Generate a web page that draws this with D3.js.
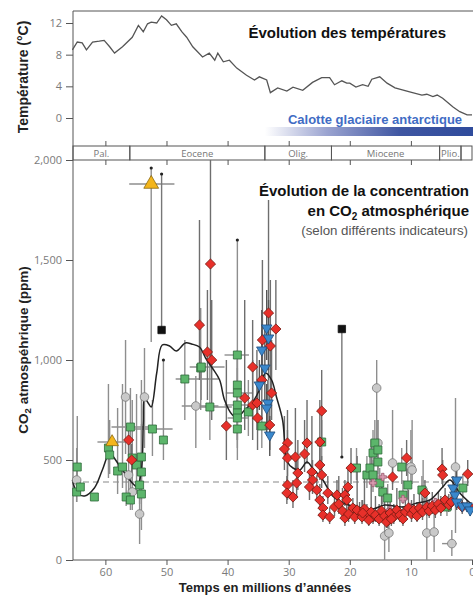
<!DOCTYPE html>
<html>
<head>
<meta charset="utf-8">
<script src="https://cdn.jsdelivr.net/npm/d3@7"></script>
<style>
  body { margin: 0; background: #fff; }
  svg { display: block; }
  .tick text { font-family: "Open Sans", sans-serif; font-size: 11px; fill: #7a7a7a; }
  .tick line, .domain { stroke: #555; }
</style>
</head>
<body>
<script>
// --- data ---------------------------------------------------------------
// temperature curve [age Ma, °C]
const temperature = [
  [65.4,8.6],[64.6,9.6],[63.8,9.5],[63.1,8.6],[62.1,9.6],[61.0,9.7],[60.2,9.8],[59.3,9.0],[58.5,8.2],
  [57.2,9.0],[55.6,10.2],[54.6,11.7],[53.8,10.9],[53.1,11.9],[52.5,12.1],[51.6,12.0],[50.8,12.9],[50.0,12.4],
  [49.2,11.7],[48.4,11.9],[47.5,10.9],[46.7,10.2],[45.7,9.0],[44.1,7.7],[43.0,8.2],[42.1,7.3],[41.6,8.2],
  [40.7,7.1],[39.7,7.3],[38.5,6.3],[36.9,5.4],[35.6,4.8],[34.8,5.2],[33.6,4.8],[33.0,3.2],[31.8,3.8],
  [30.3,3.4],[29.3,3.9],[27.7,3.5],[26.1,4.5],[24.6,5.1],[23.3,5.1],[22.5,4.2],[21.3,4.7],[20.5,4.4],
  [20.0,4.4],[19.0,3.9],[17.9,4.2],[17.0,4.0],[16.4,4.9],[15.1,5.2],[13.9,4.4],[12.6,3.8],[10.2,3.3],
  [8.2,2.9],[7.4,3.0],[6.4,2.7],[5.7,2.9],[4.8,2.5],[3.1,1.4],[2.0,0.8],[0.8,0.4],[0,0.4]
];

// LOESS fit through the CO2 proxies [age, ppm]
const co2Fit = [
  [65.4,400],[64.6,335],[63.4,320],[61.8,360],[60.5,450],[59.3,540],[58.9,525],[57.2,450],[55.6,385],
  [54.8,365],[54.1,450],[53.8,685],[53.6,810],[53.0,785],[52.5,765],[51.6,935],[50.7,1075],[49.5,1070],
  [48.4,1045],[46.9,1085],[45.9,1080],[44.6,1065],[43.6,1010],[42.5,960],[41.3,900],[40.5,800],[39.2,725],
  [38.4,715],[37.2,750],[35.9,790],[34.8,850],[33.8,935],[32.8,900],[32.0,815],[31.0,700],[30.2,490],
  [29.3,460],[28.2,450],[27.0,490],[26.1,460],[24.4,400],[22.8,320],[21.1,285],[18.9,265],[16.2,255],
  [14.3,275],[11.3,265],[9.0,285],[6.9,300],[4.8,365],[3.6,400],[2.0,335],[0.3,285]
];

// proxies: [age, ppm, low, high, ageLow, ageHigh]
const stomata = [
  [64.6,465,330,720],[64.7,340,290,430],[64.1,365,330,400],[61.8,315,300,330],[59.5,560,410,880],
  [59.3,525,430,700],[58.0,445,330,760],[57.2,465,360,880],[55.9,665,520,860,59.0,52.8],[56.6,315,270,430],
  [55.9,300,250,420],[55.6,510,380,800],[54.9,475,330,830],[54.1,515,390,900],[54.1,440,300,680],
  [54.4,375,280,520],[54.1,330,150,470],[52.3,655,520,800,55.2,49.0],[50.5,600,500,1000],
  [47.0,905,700,1100,48.5,41.5],[44.4,960,750,1260],[44.3,965,800,1050,46.2,40.5],[42.9,765,600,1050,45.5,39.3],
  [38.4,1025,900,1600,40.5,36.5],[38.4,875,700,1050],[38.4,835,650,1000,40.3,36.0],[38.4,775,600,960,40.5,36.0],
  [38.4,735,600,900],[38.4,710,560,880,40.0,36.5],[38.4,655,500,800],[36.6,740,620,900],[34.4,670,560,800],
  [24.6,590,500,700],[18.9,460,400,560],[17.2,425,360,520],[16.7,460,380,540],[15.9,585,480,700],
  [16.2,535,450,650],[15.4,550,430,700],[15.4,490,400,600],[16.2,425,340,500],[15.1,385,320,460],
  [14.6,340,280,400],[13.8,310,260,380],[11.5,465,380,560],[10.5,375,300,450],[11.3,325,280,400],
  [8.2,350,290,420],[4.1,265,220,320],[1.5,360,300,430]
];

const paleosols = [
  [64.7,400,290,560],[56.7,815,530,1100],[53.6,815,560,1060],[56.2,425,300,620],[55.6,340,250,500],
  [54.4,230,80,380],[45.2,770,560,920,47.5,41.5],[15.6,860,560,1000],[15.4,585,450,700],[13.0,485,380,750],
  [10.0,465,380,650],[9.8,450,380,700],[8.0,350,250,500],[14.3,120,0,250],[13.6,135,40,280],
  [7.4,135,0,280],[6.2,140,40,300],[3.3,82,20,150,4.9,2.5],[2.7,465,135,810]
];

const boron = [
  [56.2,600,520,680],[55.7,500,420,580],[44.6,1175,900,1700],[42.8,1480,1000,2000],[43.3,1040,800,1350],
  [42.6,1000,700,1300],[40.2,670,500,1000],[37.2,810,650,1300],[35.9,965,700,1200],[35.9,775,600,1000],
  [35.2,785,650,1050],[35.1,710,550,900],[34.4,900,700,1150],[34.3,1100,900,1500],[33.3,1235,900,1800],
  [33.0,1070,850,1400],[32.1,1155,950,1400],[33.1,675,550,850],[32.8,835,700,1100],[30.2,585,480,750],
  [30.7,555,450,720],[30.2,510,420,650],[28.9,515,430,760],[27.4,530,440,700],[27.0,585,480,800],
  [24.6,745,600,950],[24.9,590,500,800],[28.5,435,350,600],[28.7,385,320,500],[30.2,375,300,480],
  [30.3,335,280,420],[29.3,315,260,400],[26.2,440,360,720],[26.1,400,330,500],[26.6,365,300,450],
  [24.9,475,400,560],[24.6,425,360,520],[25.4,350,290,420],[24.9,300,250,380],[24.4,260,210,320],
  [24.4,225,190,280],[23.3,215,180,260],[23.6,335,280,420],[22.5,265,220,320],[22.1,325,270,400],
  [20.8,325,270,400],[20.3,365,300,450],[19.8,460,380,560],[20.5,300,250,360],[20.8,210,170,260],
  [19.5,260,220,310],[18.4,240,200,290],[17.2,235,200,280],[16.2,215,180,260],[13.0,415,350,500],
  [10.7,510,420,600],[7.7,335,280,400],[4.9,455,380,560],[4.8,425,360,500],[0.7,430,370,500],
  [21.8,280,230,420],[21.2,245,200,360],[20.2,230,190,300],[19.2,215,180,280],[18.8,250,210,520],
  [18.0,215,180,300],[17.6,255,210,420],[16.9,200,170,260],[16.5,240,200,600],[15.8,225,190,320],
  [15.2,205,170,280],[14.8,245,200,380],[14.3,220,180,300],[13.8,195,160,260],[13.4,235,200,320],
  [12.8,215,180,280],[12.3,250,210,360],[11.8,225,190,300],[11.3,205,170,270],[10.9,240,200,330],
  [10.4,260,220,350],[9.9,230,190,300],[9.5,250,210,330],[9.0,220,190,290],[8.6,260,220,340],
  [8.1,240,200,310],[7.4,265,220,330],[7.0,245,210,300],[6.5,270,230,340],[6.0,250,210,310],
  [5.5,280,240,340],[5.1,260,220,320],[4.4,300,260,360],[3.8,275,240,330],[3.4,290,250,340],
  [1.6,265,230,300],[0.2,260,230,290],[14.0,190,160,240],[13.2,205,170,250],[17.9,235,200,300]
];

const boronBlue = [
  [33.6,1160,1000,1350],[33.3,1110,950,1300],[34.4,1050,900,1250],[33.9,960,800,1150],[34.8,875,750,1000],
  [33.4,785,650,900],[33.6,760,620,880],[33.1,625,520,720],[3.1,360,300,420],[2.8,325,280,380],
  [2.5,290,250,340],[2.5,400,340,460],[1.6,270,240,300],[0.8,270,240,300],[0.3,250,220,280]
];

const liverworts = [
  [16.2,385],[14.6,415],[13.4,250],[11.3,305],[10.2,265],[8.5,235],[7.2,270],[6.0,290]
];

const nahcolite = [[58.9,590,560,620,61.3,56.4],[52.5,1880,1090,1960,56.1,48.7]];

// one-sided limits: [age, ppm, end of arrow]
const limits = [[50.8,1150,1930],[21.3,1155,515]];
const arrowTips = [[52.5,1960],[50.8,1930],[50.5,1000],[38.4,1600],[21.3,515]];

const epochs = [
  { name: "Pal.", from: 65.3, to: 56 },
  { name: "Eocene", from: 56, to: 33.9 },
  { name: "Olig.", from: 33.9, to: 23 },
  { name: "Miocene", from: 23, to: 5.3 },
  { name: "Plio.", from: 5.3, to: 1.8 },
  { name: "", from: 1.8, to: 0 }
];

const decades = [60, 50, 40, 30, 20, 10];
const ageTicks = [60, 50, 40, 30, 20, 10, 0];
const tempTicks = [0, 4, 8, 12];
const co2Ticks = [0, 500, 1000, 1500, 2000];
const modernCO2 = 390;

// --- layout -------------------------------------------------------------
const W = 473, H = 595;
const left = 73, right = 472;

const svg = d3.select("body").append("svg")
  .attr("width", W).attr("height", H)
  .style("font-family", "'Liberation Sans', Arial, sans-serif");

const x = d3.scaleLinear().domain([65.3, 0]).range([left, right]);
const yT = d3.scaleLinear().domain([0, 12]).range([118, 23]);
const yC = d3.scaleLinear().domain([0, 2000]).range([560, 160]);

// gradient for the ice sheet bar
const grad = svg.append("defs").append("linearGradient")
  .attr("id", "ice").attr("x1", 0).attr("x2", 1);
grad.append("stop").attr("offset", 0).attr("stop-color", "#ffffff");
grad.append("stop").attr("offset", 0.3).attr("stop-color", "#9aa3d0");
grad.append("stop").attr("offset", 0.65).attr("stop-color", "#3f56a2");
grad.append("stop").attr("offset", 1).attr("stop-color", "#2f4b9c");

// --- temperature panel ----------------------------------------------------
svg.append("line").attr("x1", left).attr("x2", W).attr("y1", 11).attr("y2", 11)
  .attr("stroke", "#555");

svg.append("g").attr("transform", `translate(${left},0)`)
  .call(d3.axisLeft(yT).tickValues(tempTicks).tickSize(7).tickPadding(4))
  .call(g => g.select(".domain").remove())
  .call(g => g.selectAll(".tick text").attr("font-size", 11.5));

svg.append("rect")
  .attr("x", x(33.9)).attr("y", 127).attr("width", W - x(33.9)).attr("height", 9)
  .attr("fill", "url(#ice)");

svg.append("text")
  .attr("x", 375).attr("y", 124).attr("text-anchor", "middle")
  .attr("fill", "#3f6cc4").attr("font-size", 13).attr("font-weight", "bold")
  .text("Calotte glaciaire antarctique");

svg.append("path")
  .datum(temperature)
  .attr("fill", "none").attr("stroke", "#555").attr("stroke-width", 1.3)
  .attr("d", d3.line().x(d => x(d[0])).y(d => yT(d[1])));

svg.append("text")
  .attr("x", 446).attr("y", 38).attr("text-anchor", "end")
  .attr("font-size", 15).attr("font-weight", "bold").attr("fill", "#111")
  .text("Évolution des températures");

svg.append("text")
  .attr("transform", "translate(28,77) rotate(-90)").attr("text-anchor", "middle")
  .attr("font-size", 14).attr("font-weight", "bold").attr("fill", "#222")
  .text("Température (°C)");

// --- epoch band -----------------------------------------------------------
svg.append("g").attr("transform", "translate(0,146)")
  .call(d3.axisTop(x).tickValues(decades).tickSize(5).tickFormat(""))
  .call(g => g.select(".domain").remove());

const band = svg.append("g");
band.selectAll("rect").data(epochs).join("rect")
  .attr("x", d => x(d.from)).attr("width", d => x(d.to) - x(d.from))
  .attr("y", 146).attr("height", 14)
  .attr("fill", "none").attr("stroke", "#555");
band.selectAll("text").data(epochs).join("text")
  .attr("x", d => (x(d.from) + x(d.to)) / 2).attr("y", 157)
  .attr("text-anchor", "middle").attr("font-family", "'Open Sans', sans-serif")
  .attr("font-size", 9.5).attr("fill", "#777")
  .text(d => d.name);

svg.append("g").attr("transform", "translate(0,160)")
  .call(d3.axisBottom(x).tickValues(decades).tickSize(5).tickFormat(""))
  .call(g => g.select(".domain").remove());

// --- CO2 panel ------------------------------------------------------------
svg.append("line").attr("x1", left).attr("x2", left).attr("y1", 11).attr("y2", 560)
  .attr("stroke", "#555");

svg.append("g").attr("transform", `translate(${left},0)`)
  .call(d3.axisLeft(yC).tickValues(co2Ticks).tickSize(7).tickPadding(4).tickFormat(d3.format(",")))
  .call(g => g.select(".domain").remove())
  .call(g => g.selectAll(".tick text").attr("font-size", 11.5));

svg.append("g").attr("transform", "translate(0,560)")
  .call(d3.axisBottom(x).tickValues(ageTicks).tickSize(5).tickPadding(3))
  .call(g => g.select(".domain").attr("d", `M${left},0H${W}`))
  .call(g => g.selectAll(".tick text").attr("font-size", 12));

svg.append("line")
  .attr("x1", left).attr("x2", right).attr("y1", yC(modernCO2)).attr("y2", yC(modernCO2))
  .attr("stroke", "#888").attr("stroke-width", 1.2).attr("stroke-dasharray", "6,4");

const proxies = [
  { data: paleosols, bar: "#8e8e8e" },
  { data: stomata, bar: "#8e8e8e" },
  { data: boron, bar: "#6e6e6e" },
  { data: boronBlue, bar: "#555" },
  { data: nahcolite, bar: "#8e8e8e" }
];

const bars = svg.append("g").attr("stroke-width", 1.4);
proxies.forEach(p => {
  bars.append("g").attr("stroke", p.bar)
    .selectAll("line").data(p.data).join("line")
    .attr("x1", d => x(d[0])).attr("x2", d => x(d[0]))
    .attr("y1", d => yC(d[2])).attr("y2", d => yC(d[3]));
  bars.append("g").attr("stroke", p.bar)
    .selectAll("line").data(p.data.filter(d => d.length > 4)).join("line")
    .attr("x1", d => x(d[4])).attr("x2", d => x(d[5]))
    .attr("y1", d => yC(d[1])).attr("y2", d => yC(d[1]));
});

bars.append("g").attr("stroke", "#777")
  .selectAll("line").data(limits).join("line")
  .attr("x1", d => x(d[0])).attr("x2", d => x(d[0]))
  .attr("y1", d => yC(d[1])).attr("y2", d => yC(d[2]));

svg.append("g").selectAll("circle").data(arrowTips).join("circle")
  .attr("cx", d => x(d[0])).attr("cy", d => yC(d[1])).attr("r", 1.6).attr("fill", "#222");

svg.append("path")
  .datum(co2Fit)
  .attr("fill", "none").attr("stroke", "#222").attr("stroke-width", 1.5)
  .attr("d", d3.line().curve(d3.curveCatmullRom).x(d => x(d[0])).y(d => yC(d[1])));

const marks = svg.append("g");
const put = (data, shape, size, fill, stroke, rot) => marks.append("g")
  .selectAll("path").data(data).join("path")
  .attr("transform", d => `translate(${x(d[0])},${yC(d[1])}) rotate(${rot})`)
  .attr("d", d3.symbol(shape, size))
  .attr("fill", fill).attr("stroke", stroke).attr("stroke-width", 0.8);

put(paleosols, d3.symbolCircle, 58, "#c9c9c9", "#777", 0);
put(stomata, d3.symbolSquare, 64, "#5cb56b", "#2f6a3a", 0);
put(liverworts, d3.symbolCross, 30, "#d79aae", "#9a5a70", 0);
put(boron, d3.symbolSquare, 52, "#e8302a", "#7a1a12", 45);
put(boronBlue, d3.symbolTriangle, 48, "#3a88cc", "#1f4c7e", 180);
put(nahcolite.slice(0, 1), d3.symbolTriangle, 70, "#f3b51b", "#8a6a10", 0);
put(nahcolite.slice(1), d3.symbolTriangle, 95, "#f3b51b", "#8a6a10", 0);
put(limits, d3.symbolSquare, 55, "#111", "#111", 0);

// --- titles ---------------------------------------------------------------
const t = svg.append("g").attr("text-anchor", "end").attr("fill", "#111");
t.append("text").attr("x", 469).attr("y", 196)
  .attr("font-size", 15).attr("font-weight", "bold")
  .text("Évolution de la concentration");
const t2 = t.append("text").attr("x", 469).attr("y", 216)
  .attr("font-size", 15).attr("font-weight", "bold");
t2.append("tspan").text("en CO");
t2.append("tspan").attr("font-size", 10).attr("dy", 4).text("2");
t2.append("tspan").attr("dy", -4).text(" atmosphérique");
t.append("text").attr("x", 468).attr("y", 235)
  .attr("font-size", 13.3).attr("fill", "#555")
  .text("(selon différents indicateurs)");

const yl = svg.append("text")
  .attr("transform", "translate(28,350) rotate(-90)").attr("text-anchor", "middle")
  .attr("font-size", 13.5).attr("font-weight", "bold").attr("fill", "#222");
yl.append("tspan").text("CO");
yl.append("tspan").attr("font-size", 9.5).attr("dy", 3).text("2");
yl.append("tspan").attr("dy", -3).text(" atmospéhrique (ppm)");

svg.append("text")
  .attr("x", 265).attr("y", 592).attr("text-anchor", "middle")
  .attr("font-size", 13).attr("font-weight", "bold").attr("fill", "#222")
  .text("Temps en millions d’années");
</script>
</body>
</html>
